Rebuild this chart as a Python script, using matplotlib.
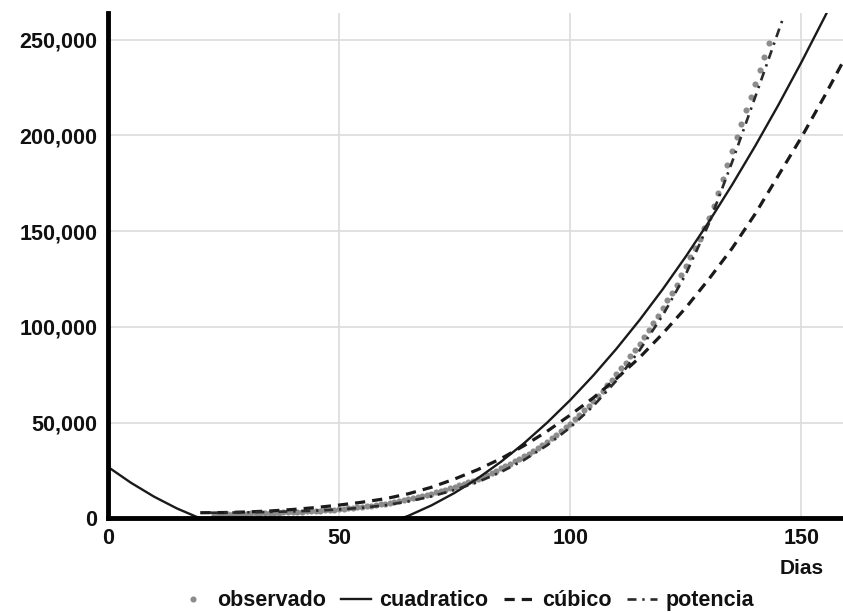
#Observed cases vs fitted models (quadratic, cubic, power) - recreated chart

import matplotlib.pyplot as plt
import numpy as np
from matplotlib.ticker import FuncFormatter

plt.rcParams['font.family'] = ['Liberation Sans', 'DejaVu Sans']

### DATA

#Observed cases, one value per day (days 23..143)
obs_days = list(range(23, 144))
obs_vals = [2000, 2050, 2100, 2200, 2250, 2350, 2400, 2500, 2600, 2650,
            2750, 2800, 2900, 3000, 3100, 3200, 3300, 3400, 3500, 3600,
            3700, 3850, 4000, 4100, 4250, 4400, 4600, 4800, 5050, 5300,
            5550, 5800, 6050, 6350, 6650, 7000, 7400, 7800, 8250, 8700,
            9100, 9600, 10100, 10600, 11100, 11700, 12300, 12900, 13600, 14300,
            15000, 15700, 16500, 17300, 18100, 18900, 19800, 20700, 21700, 22700,
            23800, 24900, 26100, 27300, 28500, 29800, 31100, 32500, 33900, 35300,
            36800, 38400, 40000, 41800, 43600, 45500, 47500, 49500, 51700, 54000,
            56400, 58900, 61400, 64000, 66700, 69500, 72400, 75300, 78300, 81400,
            84600, 87900, 91300, 94800, 98400, 102100, 105900, 109800, 113800, 117900,
            122100, 127000, 132000, 136500, 141000, 146000, 151500, 157000, 163000, 170000,
            177000, 184500, 192000, 199000, 206000, 213000, 220000, 227000, 234000, 241000,
            248000]

#Quadratic fit (goes below zero between ~20 and ~64, clipped by the axis)
quad_days = list(range(0, 165, 5))
quad_vals = [27000, 18670, 11400, 5190, 40, -4050, -7080, -9050, -9960, -9810,
             -8600, -6330, -3000, 1390, 6840, 13350, 20920, 29550, 39240, 49990,
             61800, 74670, 88600, 103590, 119640, 136750, 154920, 174150, 194440, 215790,
             238200, 261670, 286200]

#Cubic fit
cub_days = list(range(20, 165, 5))
cub_vals = [3000, 3100, 3400, 3900, 4700, 5700, 7000, 8500, 10300, 12900,
            16300, 20600, 25500, 31200, 38000, 45500, 54000, 63000, 73000, 84000,
            96500, 110000, 125000, 141000, 159000, 179000, 199000, 220500, 243000]

#Power fit
pot_days = [22, 25, 30, 35, 40, 45, 50, 55, 60, 65, 70, 75, 80, 85, 90, 95,
            100, 105, 110, 115, 120, 125, 130, 135, 140, 146]
pot_vals = [3000, 3050, 3200, 3400, 3700, 4100, 4700, 5600, 6900, 8900,
            11500, 14900, 19000, 24200, 30500, 38200, 47500, 58700, 72000, 87800,
            106000, 127500, 154000, 186000, 220000, 261000]

x_ticks = [0, 50, 100, 150]
y_ticks = [0, 50000, 100000, 150000, 200000, 250000]

### PLOT

fig = plt.figure(figsize=(8.43, 6.13), dpi=100)
ax = fig.add_axes([0.1278, 0.1542, 0.8723, 0.8251])

ax.plot(obs_days, obs_vals, ls='none', marker='o', ms=4.4, color='#8c8c8c',
        mec='none', label='observado', zorder=2)
ax.plot(quad_days, quad_vals, color='#1a1a1a', lw=1.7, label='cuadratico', zorder=3)
ax.plot(cub_days, cub_vals, color='#1a1a1a', lw=2.3, ls=(0, (3.2, 2.2)),
        label='cúbico', zorder=3)
ax.plot(pot_days, pot_vals, color='#2a2a2a', lw=1.9, ls=(0, (3.4, 2.2, 0.9, 2.2)),
        label='potencia', zorder=3)

ax.set_xlim(0, 159)
ax.set_ylim(0, 264000)
ax.set_xticks(x_ticks)
ax.set_yticks(y_ticks)
ax.yaxis.set_major_formatter(FuncFormatter(lambda v, p: '{:,.0f}'.format(v)))

ax.grid(True, color='#dcdcdc', lw=1.2)
ax.set_axisbelow(True)
for s in ['top', 'right']:
    ax.spines[s].set_visible(False)
for s in ['left', 'bottom']:
    ax.spines[s].set_linewidth(3.5)
    ax.spines[s].set_color('black')
    ax.spines[s].set_zorder(5)

ax.tick_params(axis='y', length=0, pad=7.5, labelsize=15.5, labelcolor='#111111')
ax.tick_params(axis='x', length=0, pad=6.5, labelsize=15.5, labelcolor='#111111')
for t in ax.get_xticklabels() + ax.get_yticklabels():
    t.set_fontweight('bold')

ax.set_xlabel('Dias', fontsize=15, fontweight='bold', color='#111111')
ax.xaxis.set_label_coords(150/159, -0.08)

leg = fig.legend(loc='center', bbox_to_anchor=(0.553, 0.02), ncol=4, frameon=False,
                 numpoints=1, handlelength=1.4, handletextpad=0.4, columnspacing=0.7,
                 borderpad=0.1, prop={'weight': 'bold', 'size': 15.5})
for t in leg.get_texts():
    t.set_color('#111111')

plt.savefig('out.png', dpi=100)
